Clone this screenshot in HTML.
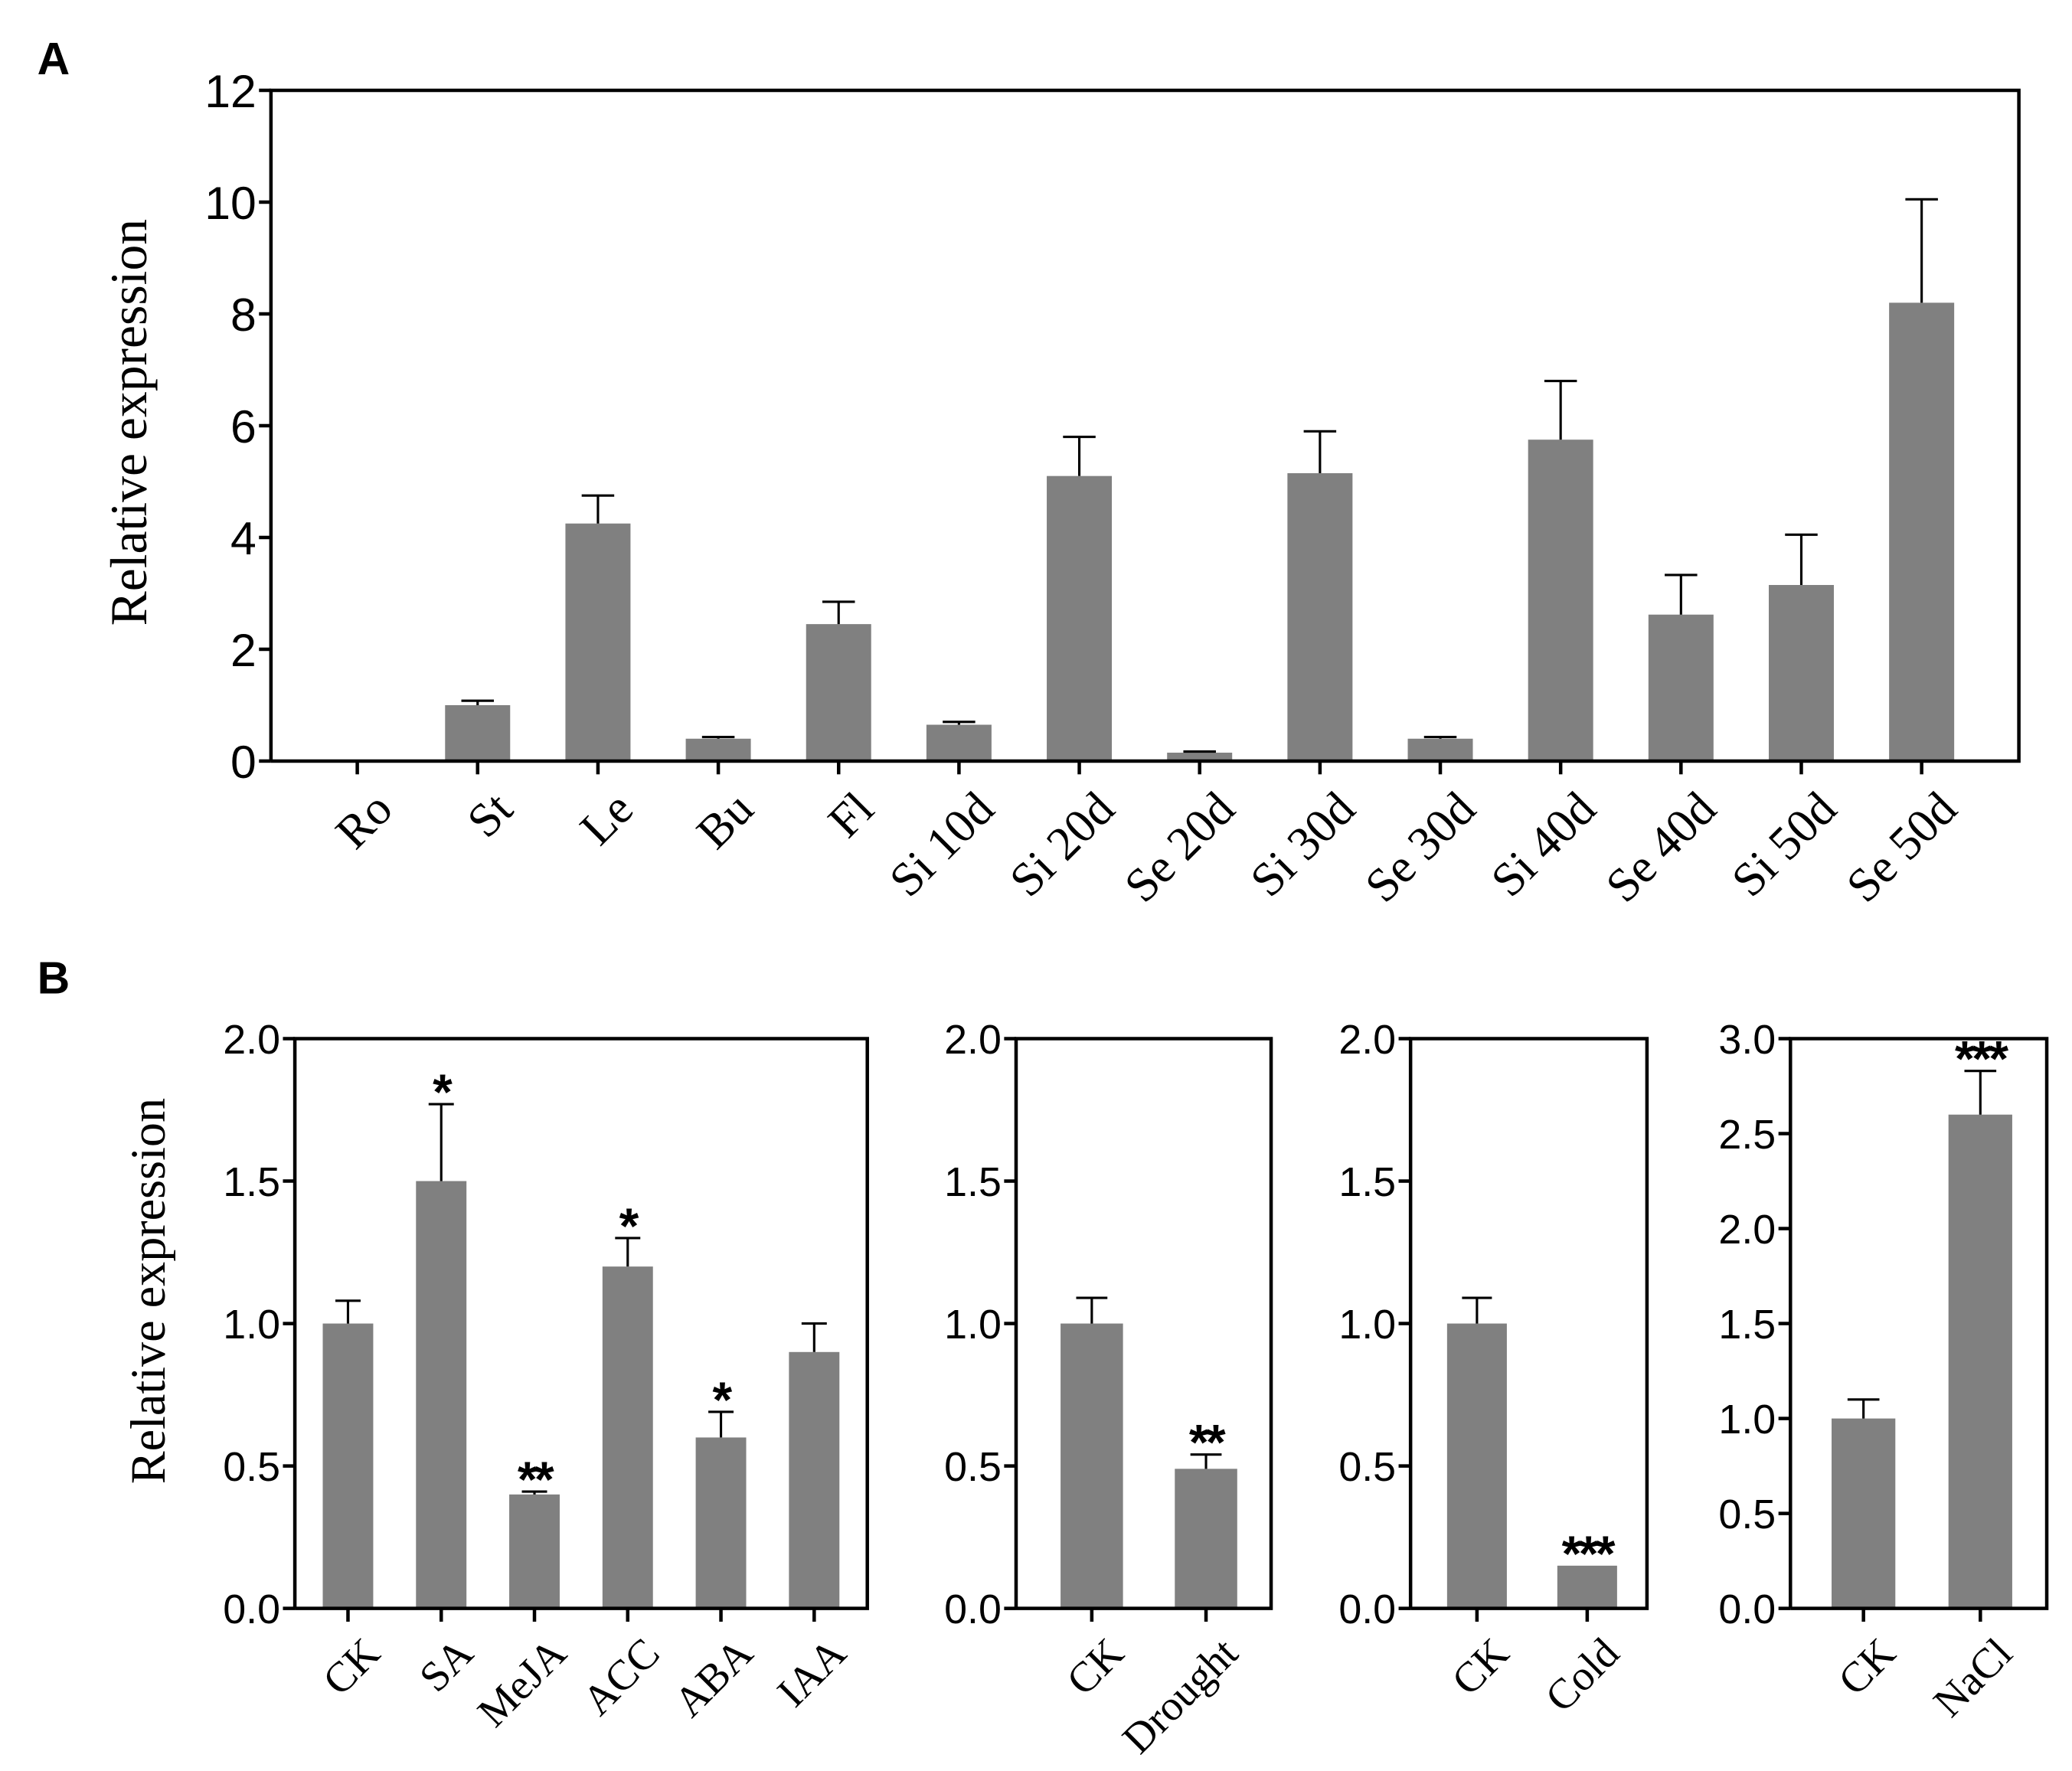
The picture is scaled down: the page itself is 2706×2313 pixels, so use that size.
<!DOCTYPE html>
<html><head><meta charset="utf-8"><style>
html,body{margin:0;padding:0;background:#fff;}
svg{display:block;}
</style></head><body>
<svg id="fig" xmlns="http://www.w3.org/2000/svg" width="2706" height="2313" viewBox="0 0 1560 1333.4">
<text x="28" y="56" font-family="Liberation Sans, sans-serif" font-weight="bold" font-size="34">A</text>
<text x="28" y="748" font-family="Liberation Sans, sans-serif" font-weight="bold" font-size="34">B</text>
<text transform="translate(110,318) rotate(-90)" text-anchor="middle" font-family="Liberation Serif, serif" font-size="39">Relative expression</text>
<text transform="translate(124,972) rotate(-90)" text-anchor="middle" font-family="Liberation Serif, serif" font-size="37">Relative expression</text>
</svg>
<script>
// Panel A data
const aCategories = ["Ro","St","Le","Bu","Fl","Si 10d","Si 20d","Se 20d","Si 30d","Se 30d","Si 40d","Se 40d","Si 50d","Se 50d"];
const aValues = [0,1.0,4.25,0.4,2.45,0.65,5.1,0.15,5.15,0.4,5.75,2.62,3.15,8.2];
const aErrTop = [0,1.08,4.75,0.43,2.85,0.7,5.8,0.17,5.9,0.43,6.8,3.33,4.05,10.05];
const aTicks = [0,2,4,6,8,10,12];
const aTickLabels = ["0","2","4","6","8","10","12"];
// Panel B1 hormones
const b1Categories = ["CK","SA","MeJA","ACC","ABA","IAA"];
const b1Values = [1.0,1.5,0.4,1.2,0.6,0.9];
const b1ErrTop = [1.08,1.77,0.41,1.3,0.69,1.0];
const b1Stars = ["","*","**","*","*",""];
const b1Ticks = [0,0.5,1.0,1.5,2.0];
const b1TickLabels = ["0.0","0.5","1.0","1.5","2.0"];
// Panel B2 drought
const b2Categories = ["CK","Drought"];
const b2Values = [1.0,0.49];
const b2ErrTop = [1.09,0.54];
const b2Stars = ["","**"];
const b2Ticks = [0,0.5,1.0,1.5,2.0];
const b2TickLabels = ["0.0","0.5","1.0","1.5","2.0"];
// Panel B3 cold
const b3Categories = ["CK","Cold"];
const b3Values = [1.0,0.15];
const b3ErrTop = [1.09,0.15];
const b3Stars = ["","***"];
const b3Ticks = [0,0.5,1.0,1.5,2.0];
const b3TickLabels = ["0.0","0.5","1.0","1.5","2.0"];
// Panel B4 salt
const b4Categories = ["CK","NaCl"];
const b4Values = [1.0,2.6];
const b4ErrTop = [1.1,2.83];
const b4Stars = ["","***"];
const b4Ticks = [0,0.5,1.0,1.5,2.0,2.5,3.0];
const b4TickLabels = ["0.0","0.5","1.0","1.5","2.0","2.5","3.0"];

const NS="http://www.w3.org/2000/svg";
const svg=document.getElementById('fig');
function mk(tag,attrs,parent){const e=document.createElementNS(NS,tag);for(const k in attrs)e.setAttribute(k,attrs[k]);(parent||svg).appendChild(e);return e;}

function drawPanel(id,box,cats,vals,errs,stars,ticks,tickLabels,ymax,first,step,bw,fs,lfs){
  const g=mk('g',{});
  
  
  const y=v=>box.b-(v/ymax)*(box.b-box.t);
  const x=i=>first+i*step;
  vals.forEach((v,i)=>{
    const r=mk('rect',{x:x(i)-bw/2,y:y(v),width:bw,height:box.b-y(v),fill:'#808080'},g);
    
    
    if(errs[i]>v){
      const e=mk('path',{d:`M${x(i)},${y(v)}V${y(errs[i])}M${x(i)-bw*0.25},${y(errs[i])}H${x(i)+bw*0.25}`,stroke:'#000','stroke-width':1.8,fill:'none'},g);
      
      
    }
    if(stars&&stars[i]){
      const s=mk('text',{x:x(i),y:y(Math.max(errs[i],v))+4,'text-anchor':'middle','font-family':'Liberation Sans, sans-serif','font-weight':'bold','font-size':38,'letter-spacing':-2},g);
      s.textContent=stars[i];
      
      
    }
  });
  const fr=mk('path',{d:`M${box.l},${box.b}V${box.t}H${box.r}V${box.b}H${box.l}`,stroke:'#000','stroke-width':2.6,fill:'none'},g);
  
  
  ticks.forEach((t,i)=>{
    mk('line',{x1:box.l-9,x2:box.l,y1:y(t),y2:y(t),stroke:'#000','stroke-width':2.6},g);
    const tl=mk('text',{x:box.l-11,y:y(t)+fs*0.36,'text-anchor':'end','font-family':'Liberation Sans, sans-serif','font-size':fs},g);
    tl.textContent=tickLabels[i];
    
    
  });
  cats.forEach((c,i)=>{
    mk('line',{x1:x(i),x2:x(i),y1:box.b,y2:box.b+10,stroke:'#000','stroke-width':2.6},g);
    const tl=mk('text',{transform:`translate(${x(i)+10},${box.b+20}) rotate(-45)`,'text-anchor':'end','dominant-baseline':'hanging','font-family':'Liberation Serif, serif','font-size':lfs},g);
    tl.textContent=c;
    
    
  });
}
drawPanel('panel-a-chart',{l:204,r:1520,t:68,b:573},aCategories,aValues,aErrTop,null,aTicks,aTickLabels,12,269,90.6,49,35,36);
drawPanel('panel-b-hormone-chart',{l:222,r:653,t:782,b:1211},b1Categories,b1Values,b1ErrTop,b1Stars,b1Ticks,b1TickLabels,2,262,70.2,38,31,32);
drawPanel('panel-b-drought-chart',{l:765,r:957,t:782,b:1211},b2Categories,b2Values,b2ErrTop,b2Stars,b2Ticks,b2TickLabels,2,822,86,47,31,32);
drawPanel('panel-b-cold-chart',{l:1062,r:1240,t:782,b:1211},b3Categories,b3Values,b3ErrTop,b3Stars,b3Ticks,b3TickLabels,2,1112,83,45,31,32);
drawPanel('panel-b-salt-chart',{l:1348,r:1541,t:782,b:1211},b4Categories,b4Values,b4ErrTop,b4Stars,b4Ticks,b4TickLabels,3,1403,88,48,31,32);
</script>
</body></html>
